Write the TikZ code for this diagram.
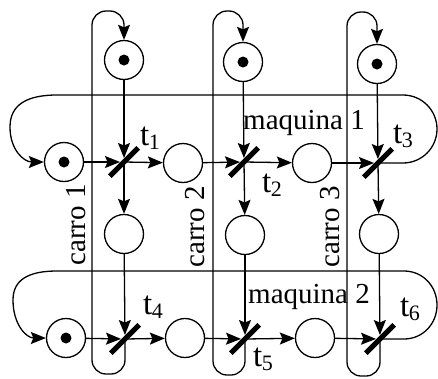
\documentclass[tikz,border=0pt]{standalone}
\usepackage{fontspec}
\setmainfont{Liberation Serif}
\usetikzlibrary{arrows.meta}
\newcommand\tlab[1]{t\kern-0.5pt\raisebox{-4pt}{\fontsize{22}{22}\selectfont #1}}
\begin{document}
\begin{tikzpicture}[x=1pt,y=-1pt,
  >={Stealth[length=15pt,width=12pt,inset=2.5pt]},
  pnarc/.style={line width=1.3pt,->},
  intr/.style={pnarc,shorten >=4pt},
  place/.style={circle,draw,line width=1.3pt,minimum size=39pt,inner sep=0pt},
  marked/.style={place,path picture={\fill (path picture bounding box.center) circle (5.5pt);}},
  trans/.style={fill=black,minimum width=40pt,minimum height=5pt,inner sep=0pt,rotate=45},
  lab/.style={font=\fontsize{29}{30}\selectfont,inner sep=0pt},
  tl/.style={font=\fontsize{33}{34}\selectfont,inner sep=0pt,anchor=base west}]
\useasboundingbox (0,0) rectangle (438,378);
% places
\node[marked] (P1t) at (124,60) {};
\node[marked] (P2t) at (243,62) {};
\node[marked] (P3t) at (377,64) {};
\node[marked] (Pa) at (64,162) {};
\node[place] (Pb) at (183,163) {};
\node[place] (Pc) at (312,163) {};
\node[place] (P1m) at (124,234) {};
\node[place] (P2m) at (245,235) {};
\node[place] (P3m) at (379,234) {};
\node[marked] (Pd) at (66,338) {};
\node[place] (Pe) at (185,338) {};
\node[place] (Pf) at (315,338) {};
% transition positions
\coordinate (T1) at (124,162);
\coordinate (T2) at (244,162);
\coordinate (T3) at (378,163);
\coordinate (T4) at (125,339);
\coordinate (T5) at (245,339);
\coordinate (T6) at (380,339);
% carro loops
\draw[pnarc,rounded corners=14pt] (T4) -- (125,374) -- (92,374) -- (92,11) -- (124,11) -- (P1t.north);
\draw[pnarc,rounded corners=14pt] (T5) -- (245,375) -- (213,375) -- (213,11) -- (243,11) -- (P2t.north);
\draw[pnarc,rounded corners=14pt] (T6) -- (380,376) -- (347,376) -- (347,12) -- (377,12) -- (P3t.north);
% maquina loops
\draw[pnarc] (T3) -- (403,163) .. controls (421.8,163) and (437,147.8) .. (437,129)
  .. controls (437,110.2) and (421.8,95) .. (403,95) -- (57,95)
  .. controls (28,95) and (10,104) .. (10,127) .. controls (10,150) and (24,162) .. (Pa.west);
\draw[pnarc] (T6) -- (404,339) .. controls (422.8,339) and (437,323.8) .. (437,305)
  .. controls (437,286.2) and (422.8,271) .. (404,271) -- (57,271)
  .. controls (28,271) and (13,280) .. (13,300) .. controls (13,324) and (26,338) .. (Pd.west);
% arcs row 1
\draw[intr] (Pa) -- (T1);
\draw[pnarc] (T1) -- (Pb);
\draw[intr] (Pb) -- (T2);
\draw[pnarc] (T2) -- (Pc);
\draw[intr] (Pc) -- (T3);
\draw[intr] (P1t) -- (T1);
\draw[intr] (P2t) -- (T2);
\draw[intr] (P3t) -- (T3);
\draw[pnarc] (T1) -- (P1m);
\draw[pnarc] (T2) -- (P2m);
\draw[pnarc] (T3) -- (P3m);
% arcs row 3
\draw[intr] (P1m) -- (T4);
\draw[intr] (P2m) -- (T5);
\draw[intr] (P3m) -- (T6);
\draw[intr] (Pd) -- (T4);
\draw[pnarc] (T4) -- (Pe);
\draw[intr] (Pe) -- (T5);
\draw[pnarc] (T5) -- (Pf);
\draw[intr] (Pf) -- (T6);
% transition bars
\node[trans] (t1) at (T1) {};
\node[trans] (t2) at (T2) {};
\node[trans] (t3) at (T3) {};
\node[trans] (t4) at (T4) {};
\node[trans] (t5) at (T5) {};
\node[trans] (t6) at (T6) {};
% labels
\node[tl] (l1) at (140,145) {\tlab{1}};
\node[tl] (l2) at (262,192) {\tlab{2}};
\node[tl] (l3) at (393,143) {\tlab{3}};
\node[tl] (l4) at (143,314) {\tlab{4}};
\node[tl] (l5) at (253,366) {\tlab{5}};
\node[tl] (l6) at (400,316) {\tlab{6}};
\node[lab,anchor=base] (m1) at (304,129) {maquina 1};
\node[lab,anchor=base] (m2) at (309,303) {maquina 2};
\node[lab,rotate=90,anchor=base] (c1) at (85,225) {carro 1};
\node[lab,rotate=90,anchor=base] (c2) at (204,227) {carro 2};
\node[lab,rotate=90,anchor=base] (c3) at (339,227) {carro 3};
\end{tikzpicture}
\end{document}
